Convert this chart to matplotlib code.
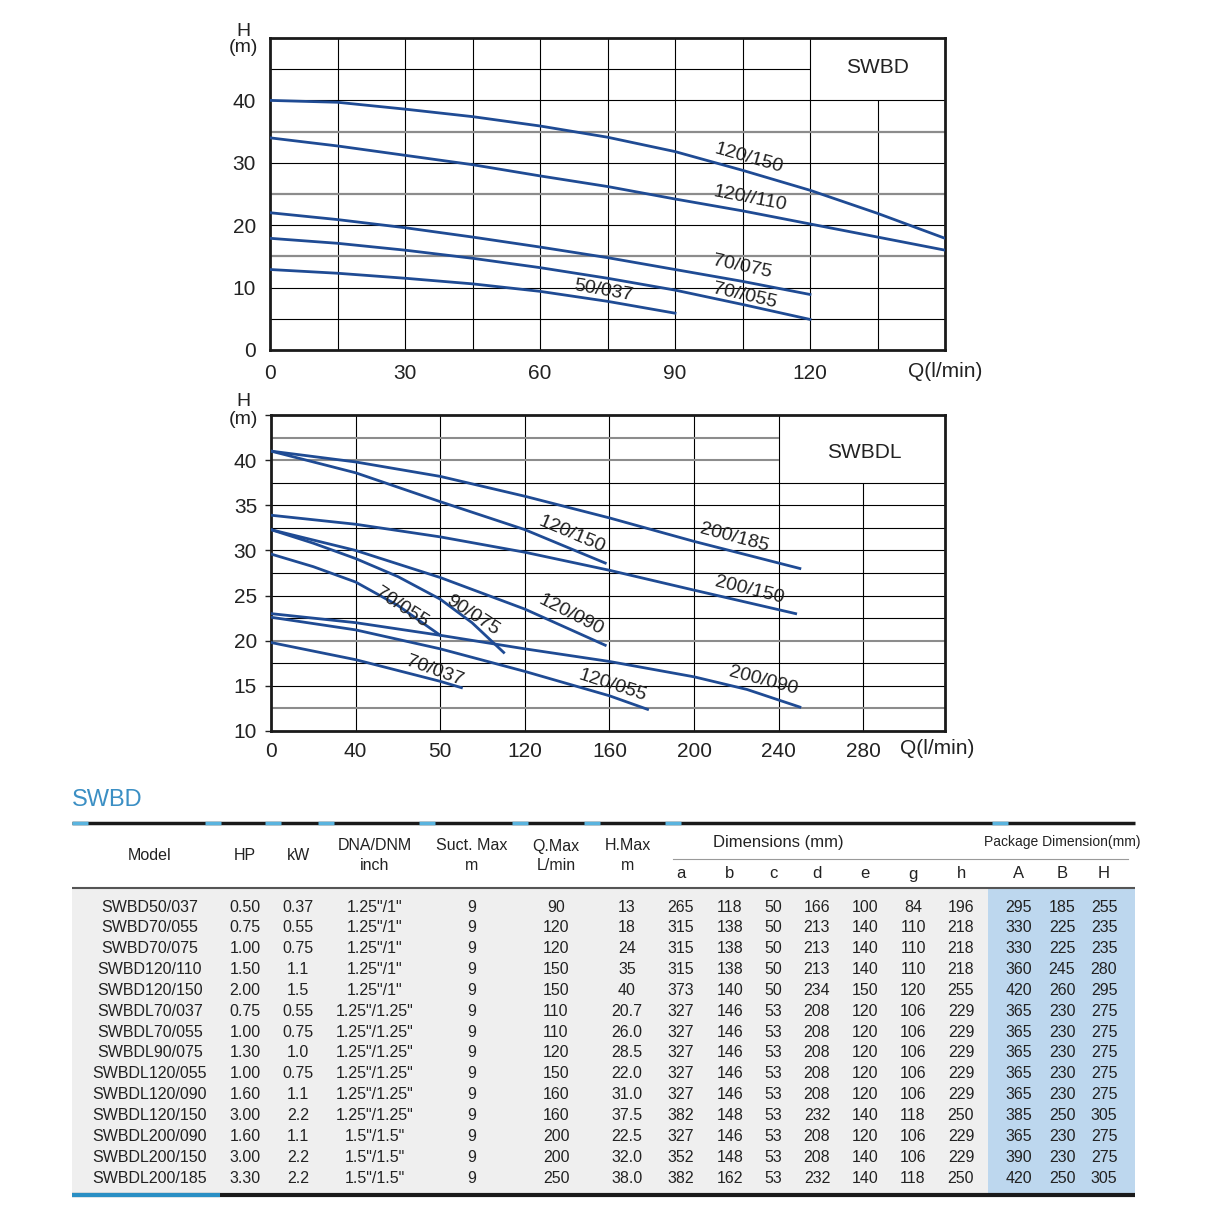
import numpy as np
import matplotlib.pyplot as plt
from matplotlib.patches import Rectangle

# Fuente estrecha tipo Arial Narrow (con respaldo)
plt.rcParams['font.family'] = ['Liberation Sans Narrow', 'Liberation Sans', 'DejaVu Sans']

CURVE_COLOR = '#1f4b94'
TEXT_COLOR = '#222222'

# ---------------- Curvas SWBD (Q en l/min, H en m) ----------------
q_swbd = [0, 15, 30, 45, 60, 75, 90, 105, 120, 135, 150]
h_120_150 = [40.0, 39.7, 38.6, 37.4, 35.9, 34.1, 31.8, 28.8, 25.6, 21.9, 17.9]
h_120_110 = [34.0, 32.7, 31.2, 29.7, 27.9, 26.2, 24.2, 22.3, 20.2, 18.1, 16.0]
h_70_075 = [22.0, 20.9, 19.6, 18.1, 16.5, 14.8, 12.9, 11.0, 8.9]
h_70_055 = [17.9, 17.1, 16.0, 14.7, 13.2, 11.5, 9.6, 7.3, 4.9]
h_50_037 = [12.9, 12.3, 11.5, 10.6, 9.4, 7.8, 5.9]

swbd_names = ['120/150', '120//110', '70/075', '70//055', '50/037']
swbd_curves = [h_120_150, h_120_110, h_70_075, h_70_055, h_50_037]

# ---------------- Curvas SWBDL ----------------
q_l200_185 = [0, 40, 80, 120, 160, 200, 250]
h_l200_185 = [41.0, 39.8, 38.2, 36.0, 33.6, 31.0, 28.0]
q_l120_150 = [0, 40, 80, 120, 158]
h_l120_150 = [41.0, 38.6, 35.4, 32.3, 28.6]
q_l200_150 = [0, 40, 80, 120, 160, 200, 248]
h_l200_150 = [33.9, 32.9, 31.5, 29.8, 27.8, 25.6, 23.0]
q_l120_090 = [0, 40, 80, 120, 158]
h_l120_090 = [32.3, 30.0, 27.0, 23.5, 19.5]
q_l90_075 = [0, 20, 40, 60, 80, 95, 110]
h_l90_075 = [32.3, 30.8, 29.1, 27.1, 24.6, 22.0, 18.7]
q_l70_055 = [0, 20, 40, 60, 80]
h_l70_055 = [29.6, 28.2, 26.5, 23.9, 20.6]
q_l200_090 = [0, 40, 80, 120, 160, 200, 225, 250]
h_l200_090 = [23.0, 22.0, 20.6, 19.1, 17.7, 16.0, 14.6, 12.65]
q_l120_055 = [0, 40, 80, 120, 160, 178]
h_l120_055 = [22.6, 21.2, 19.1, 16.6, 13.9, 12.4]
q_l70_037 = [0, 40, 80, 90]
h_l70_037 = [19.8, 17.9, 15.5, 14.8]

swbdl_names = ['200/185', '120/150', '200/150', '120/090', '90/075',
               '70/055', '200/090', '120/055', '70/037']
swbdl_curves = [(q_l200_185, h_l200_185), (q_l120_150, h_l120_150),
                (q_l200_150, h_l200_150), (q_l120_090, h_l120_090),
                (q_l90_075, h_l90_075), (q_l70_055, h_l70_055),
                (q_l200_090, h_l200_090), (q_l120_055, h_l120_055),
                (q_l70_037, h_l70_037)]
swbdl_xtick_labels = ['0', '40', '50', '120', '160', '200', '240', '280']

# ---------------- Tabla ----------------
models = ['SWBD50/037', 'SWBD70/055', 'SWBD70/075', 'SWBD120/110', 'SWBD120/150',
          'SWBDL70/037', 'SWBDL70/055', 'SWBDL90/075', 'SWBDL120/055', 'SWBDL120/090',
          'SWBDL120/150', 'SWBDL200/090', 'SWBDL200/150', 'SWBDL200/185']
hp = ['0.50', '0.75', '1.00', '1.50', '2.00', '0.75', '1.00', '1.30', '1.00', '1.60',
      '3.00', '1.60', '3.00', '3.30']
kw = ['0.37', '0.55', '0.75', '1.1', '1.5', '0.55', '0.75', '1.0', '0.75', '1.1',
      '2.2', '1.1', '2.2', '2.2']
dna = ['1.25"/1"'] * 5 + ['1.25"/1.25"'] * 6 + ['1.5"/1.5"'] * 3
suct = ['9'] * 14
qmax = ['90', '120', '120', '150', '150', '110', '110', '120', '150', '160', '160',
        '200', '200', '250']
hmax = ['13', '18', '24', '35', '40', '20.7', '26.0', '28.5', '22.0', '31.0', '37.5',
        '22.5', '32.0', '38.0']
dim_a = [265, 315, 315, 315, 373, 327, 327, 327, 327, 327, 382, 327, 352, 382]
dim_b = [118, 138, 138, 138, 140, 146, 146, 146, 146, 146, 148, 146, 148, 162]
dim_c = [50, 50, 50, 50, 50, 53, 53, 53, 53, 53, 53, 53, 53, 53]
dim_d = [166, 213, 213, 213, 234, 208, 208, 208, 208, 208, 232, 208, 208, 232]
dim_e = [100, 140, 140, 140, 150, 120, 120, 120, 120, 120, 140, 120, 140, 140]
dim_g = [84, 110, 110, 110, 120, 106, 106, 106, 106, 106, 118, 106, 106, 118]
dim_h = [196, 218, 218, 218, 255, 229, 229, 229, 229, 229, 250, 229, 229, 250]
pack_A = [295, 330, 330, 360, 420, 365, 365, 365, 365, 365, 385, 365, 390, 420]
pack_B = [185, 225, 225, 245, 260, 230, 230, 230, 230, 230, 250, 230, 230, 250]
pack_H = [255, 235, 235, 280, 295, 275, 275, 275, 275, 275, 305, 275, 275, 305]

fig = plt.figure(figsize=(12.09, 12.10), dpi=100)

# Eje de fondo en pixeles para la tabla
bg = fig.add_axes([0, 0, 1, 1])
bg.set_xlim(0, 1209)
bg.set_ylim(1210, 0)
bg.axis('off')


def style_chart(ax):
    for s in ax.spines.values():
        s.set_linewidth(2.0)
        s.set_color('#1a1a1a')
    ax.tick_params(labelsize=15, colors=TEXT_COLOR)


# ================= Grafico SWBD =================
ax1 = fig.add_axes([270 / 1209, 1 - 350 / 1210, 675 / 1209, 312 / 1210])
ax1.set_xlim(0, 150)
ax1.set_ylim(0, 50)
for x in range(15, 150, 15):
    top = 40 if x == 135 else 50
    ax1.vlines(x, 0, top, color='black', lw=0.8, zorder=1)
for y in range(5, 50, 5):
    right = 120 if y == 45 else 150
    if y in (15, 25, 35):
        ax1.hlines(y, 0, right, color='#8c8c8c', lw=1.6, zorder=1)
    else:
        ax1.hlines(y, 0, right, color='black', lw=0.8, zorder=1)

for h in swbd_curves:
    ax1.plot(q_swbd[:len(h)], h, color=CURVE_COLOR, lw=2.0, zorder=3)

swbd_lbl = [(106.4, 30.7, -16), (106.7, 24.2, -11), (105.0, 13.3, -12),
            (105.6, 8.7, -13), (74.0, 9.5, -10)]
for name, (x, y, r) in zip(swbd_names, swbd_lbl):
    ax1.text(x, y, name, rotation=r, fontsize=14, ha='center', va='center',
             color=TEXT_COLOR, zorder=4)
ax1.text(135, 45.3, 'SWBD', fontsize=15, ha='center', va='center',
         color=TEXT_COLOR, family=['Liberation Sans', 'DejaVu Sans'])

ax1.set_xticks([0, 30, 60, 90, 120])
ax1.set_yticks([0, 10, 20, 30, 40])
style_chart(ax1)
ax1.tick_params(length=0, pad=10)
ax1.text(150, -0.07, 'Q(l/min)', transform=ax1.get_xaxis_transform(),
         fontsize=15, ha='center', va='center', color=TEXT_COLOR)
bg.text(243, 31, 'H', fontsize=14, ha='center', va='center', color=TEXT_COLOR)
bg.text(243, 47, '(m)', fontsize=14, ha='center', va='center', color=TEXT_COLOR)

# ================= Grafico SWBDL =================
ax2 = fig.add_axes([271 / 1209, 1 - 731 / 1210, 674 / 1209, 316 / 1210])
ax2.set_xlim(0, 318.6)
ax2.set_ylim(10, 45)
for x in range(40, 281, 40):
    top = 37.5 if x == 280 else 45
    ax2.vlines(x, 10, top, color='black', lw=0.8, zorder=1)
for y in np.arange(12.5, 45, 2.5):
    right = 240 if y >= 40 else 318.6
    if y in (12.5, 20.0, 40.0, 42.5):
        ax2.hlines(y, 0, right, color='#8c8c8c', lw=1.5, zorder=1)
    else:
        ax2.hlines(y, 0, right, color='black', lw=0.8, zorder=1)

for q, h in swbdl_curves:
    ax2.plot(q, h, color=CURVE_COLOR, lw=2.0, zorder=3)

swbdl_lbl = [(219, 31.4, -15), (142.4, 31.8, -23), (226, 25.6, -14),
             (141.6, 22.8, -27), (95.3, 22.8, -33), (61.6, 23.7, -33),
             (232.7, 15.6, -15), (161.6, 15.0, -18), (77.4, 16.7, -20)]
for name, (x, y, r) in zip(swbdl_names, swbdl_lbl):
    ax2.text(x, y, name, rotation=r, fontsize=14, ha='center', va='center',
             color=TEXT_COLOR, zorder=4)
ax2.text(280.5, 40.8, 'SWBDL', fontsize=15, ha='center', va='center',
         color=TEXT_COLOR, family=['Liberation Sans', 'DejaVu Sans'])

ax2.set_xticks(range(0, 281, 40))
ax2.set_xticklabels(swbdl_xtick_labels)
ax2.set_yticks(range(10, 46, 5))
ax2.set_yticklabels(['10', '15', '20', '25', '30', '35', '40', ''])
style_chart(ax2)
ax2.tick_params(axis='x', length=0, pad=8)
ax2.tick_params(axis='y', length=4, width=1, pad=6, direction='out')
ax2.text(315, -0.055, 'Q(l/min)', transform=ax2.get_xaxis_transform(),
         fontsize=15, ha='center', va='center', color=TEXT_COLOR)
bg.text(243, 402, 'H', fontsize=14, ha='center', va='center', color=TEXT_COLOR)
bg.text(243, 419, '(m)', fontsize=14, ha='center', va='center', color=TEXT_COLOR)

# ================= Tabla =================
bg.text(72, 800, 'SWBD', fontsize=17, color='#3b8fc4', ha='left', va='center',
        family=['Liberation Sans', 'DejaVu Sans'])

# fondos
bg.add_patch(Rectangle((72, 889), 916, 304, color='#efefef', lw=0, zorder=0))
bg.add_patch(Rectangle((988, 889), 147, 304, color='#bdd7ee', lw=0, zorder=0))

# regla superior con marcas azules
bg.plot([72, 1135], [823, 823], color='#1a1a1a', lw=2.5, solid_capstyle='butt')
for xc in [80, 213, 273, 326, 427, 520, 592, 673, 1000]:
    bg.plot([xc - 8, xc + 8], [823, 823], color='#5ab4df', lw=2.5,
            solid_capstyle='butt')
# linea de cabecera y regla inferior
bg.plot([72, 1135], [888, 888], color='#555555', lw=1.5, solid_capstyle='butt')
bg.plot([673, 1128], [859, 859], color='#9a9a9a', lw=0.8)
bg.plot([72, 1135], [1195, 1195], color='#1a1a1a', lw=3, solid_capstyle='butt')
bg.plot([72, 220], [1195, 1195], color='#2a8fc4', lw=3, solid_capstyle='butt')

hdr_fs = 11.5
bg.text(150, 856, 'Model', fontsize=hdr_fs, ha='center', va='center', color=TEXT_COLOR)
bg.text(245, 856, 'HP', fontsize=hdr_fs, ha='center', va='center', color=TEXT_COLOR)
bg.text(298, 856, 'kW', fontsize=hdr_fs, ha='center', va='center', color=TEXT_COLOR)
two_line = [(375, 'DNA/DNM', 'inch'), (472, 'Suct. Max', 'm'),
            (556, 'Q.Max', 'L/min'), (628, 'H.Max', 'm')]
for xc, t1, t2 in two_line:
    bg.text(xc, 846, t1, fontsize=hdr_fs, ha='center', va='center', color=TEXT_COLOR)
    bg.text(xc, 866, t2, fontsize=hdr_fs, ha='center', va='center', color=TEXT_COLOR)
bg.text(778, 843, 'Dimensions (mm)', fontsize=12, ha='center', va='center',
        color=TEXT_COLOR)
bg.text(1062, 842, 'Package Dimension(mm)', fontsize=10, ha='center',
        va='center', color=TEXT_COLOR)

sub_x = [681, 730, 773, 817, 865, 913, 961, 1019, 1062, 1104]
sub_lbl = ['a', 'b', 'c', 'd', 'e', 'g', 'h', 'A', 'B', 'H']
for xc, t in zip(sub_x, sub_lbl):
    bg.text(xc, 874, t, fontsize=12, ha='center', va='center', color=TEXT_COLOR)

columns = [models, hp, kw, dna, suct, qmax, hmax, dim_a, dim_b, dim_c, dim_d,
           dim_e, dim_g, dim_h, pack_A, pack_B, pack_H]
col_x = [150, 245, 298, 375, 472, 556, 627] + sub_x
for xc, col in zip(col_x, columns):
    for i, v in enumerate(col):
        bg.text(xc, 907 + i * 20.85, str(v), fontsize=11.5, ha='center',
                va='center', color=TEXT_COLOR)

plt.savefig('out.png', dpi=100)
